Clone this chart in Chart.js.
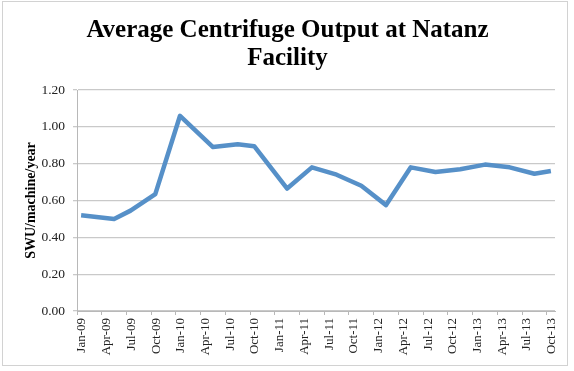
<!DOCTYPE html>
<html>
<head>
<meta charset="utf-8">
<script src="https://cdn.jsdelivr.net/npm/chart.js@4"></script>
<style>
  html, body { margin: 0; padding: 0; background: #fff; }
  #wrap { width: 574px; height: 371px; position: relative; }
</style>
</head>
<body>
<div id="wrap"><canvas id="chart" width="574" height="371"></canvas></div>
<script>
// axis labels, one every 3 months
const tickLabels = ['Jan-09', 'Apr-09', 'Jul-09', 'Oct-09', 'Jan-10', 'Apr-10', 'Jul-10', 'Oct-10',
    'Jan-11', 'Apr-11', 'Jul-11', 'Oct-11', 'Jan-12', 'Apr-12', 'Jul-12', 'Oct-12',
    'Jan-13', 'Apr-13', 'Jul-13', 'Oct-13'];

// report month, counted from Jan-09 = 0
const reportMonth = [0, 4, 6, 9, 12, 16, 19, 21, 25, 28, 31, 34, 37, 40, 43, 46, 49, 52, 55, 57];
// average output, SWU/machine/year
const swuPerMachine = [0.52, 0.50, 0.545, 0.635, 1.06, 0.89, 0.905, 0.895, 0.665, 0.78,
    0.74, 0.68, 0.575, 0.78, 0.755, 0.77, 0.795, 0.78, 0.745, 0.76];

const serif = '"Liberation Serif", "Times New Roman", serif';

// 白 배경 + 바깥 테두리
const framePlugin = {
    id: 'frame',
    beforeDraw(chart) {
        const ctx = chart.ctx;
        ctx.save();
        ctx.fillStyle = '#ffffff';
        ctx.fillRect(0, 0, chart.width, chart.height);
        ctx.strokeStyle = '#d2d2d2';
        ctx.lineWidth = 1;
        ctx.strokeRect(2.5, 1.5, 565, 364);
        ctx.restore();
    }
};

new Chart(document.getElementById('chart'), {
    type: 'line',
    data: {
        datasets: [{
            data: reportMonth.map((m, i) => ({ x: m + 0.5, y: swuPerMachine[i] })),
            borderColor: '#5690c8',
            borderWidth: 4.5,
            borderJoinStyle: 'round',
            pointRadius: 0,
            tension: 0,
            fill: false
        }]
    },
    options: {
        responsive: false,
        animation: false,
        layout: { padding: { left: 20, right: 19, top: 17, bottom: 8 } },
        plugins: {
            legend: { display: false },
            tooltip: { enabled: false },
            title: {
                display: true,
                text: ['Average Centrifuge Output at Natanz', 'Facility'],
                color: '#000',
                font: { family: serif, size: 25, weight: 'bold', lineHeight: 1.12 },
                padding: { top: 0, bottom: 17 }
            }
        },
        scales: {
            x: {
                type: 'linear',
                min: 0,
                max: 58,
                afterBuildTicks: scale => {
                    scale.ticks = tickLabels.map((_, i) => ({ value: i * 3 }));
                },
                afterFit: scale => { scale.height = 52; },
                ticks: {
                    callback: (v, i) => tickLabels[i],
                    minRotation: 90,
                    maxRotation: 90,
                    autoSkip: false,
                    labelOffset: 5,
                    padding: 3,
                    color: '#222',
                    font: { family: serif, size: 13 }
                },
                grid: {
                    drawOnChartArea: false,
                    drawTicks: true,
                    tickLength: 4,
                    color: '#b8b8b8'
                },
                border: { display: true, color: '#b8b8b8', width: 1 }
            },
            y: {
                min: 0,
                max: 1.2,
                afterFit: scale => { scale.width = 57; },
                ticks: {
                    stepSize: 0.2,
                    callback: v => v.toFixed(2),
                    padding: 8,
                    color: '#222',
                    font: { family: serif, size: 13.5 }
                },
                grid: {
                    color: '#c9c9c9',
                    lineWidth: 1.3,
                    tickLength: 4
                },
                border: { display: true, color: '#b8b8b8', width: 1 },
                title: {
                    display: true,
                    text: 'SWU/machine/year',
                    color: '#000',
                    font: { family: serif, size: 14, weight: 'bold' },
                    padding: { top: 3, bottom: 0 }
                }
            }
        }
    },
    plugins: [framePlugin]
});
</script>
</body>
</html>
